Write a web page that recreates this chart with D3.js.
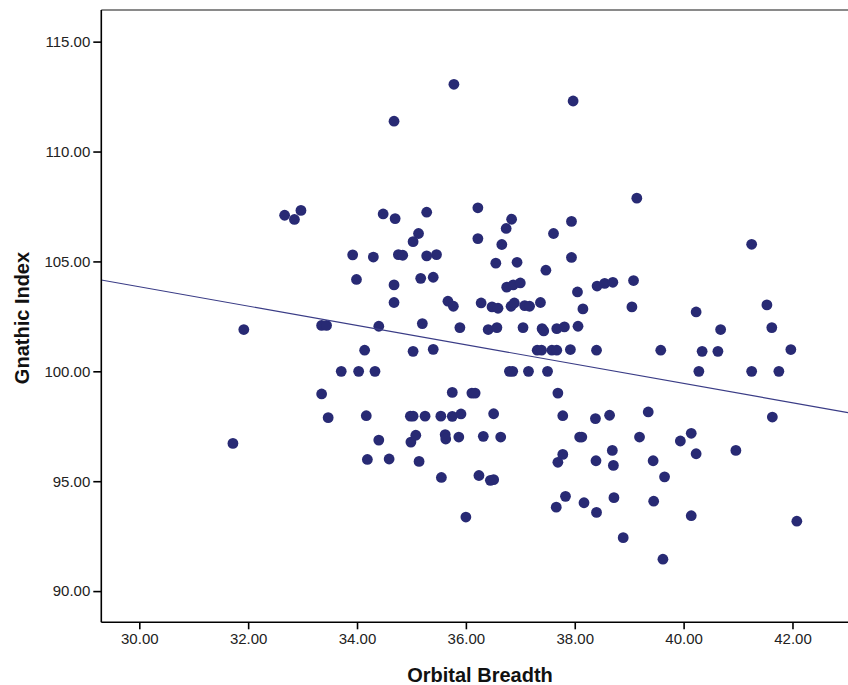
<!DOCTYPE html>
<html>
<head>
<meta charset="utf-8">
<script src="https://cdn.jsdelivr.net/npm/d3@7"></script>
<style>
  body { margin: 0; background: #fff; }
  svg { display: block; }
</style>
</head>
<body>
<svg id="viz" width="848" height="685"></svg>
<script>

// data
var orbitalBreadth = [
  35.78, 34.68, 32.67, 32.97, 32.85, 34.48, 34.70, 35.28, 36.22, 36.22,
  35.13, 35.03, 33.92, 34.30, 34.76, 34.84, 35.28, 35.46, 33.99, 34.68,
  35.17, 35.40, 34.68, 35.67, 35.77, 36.28, 31.92, 33.35, 33.44, 34.40,
  35.20, 35.89, 34.14, 35.03, 35.40, 33.71, 34.03, 34.33, 33.35, 35.75,
  36.11, 36.17, 33.47, 34.17, 34.98, 35.03, 35.25, 35.54, 35.75, 35.91,
  31.72, 34.40, 34.99, 35.08, 35.62, 35.63, 35.87, 36.32, 34.19, 34.59,
  35.14, 35.55, 36.24, 36.00, 37.97, 39.14, 36.84, 36.74, 37.94, 37.61,
  36.66, 41.25, 37.94, 36.55, 36.94, 37.47, 36.75, 36.87, 37.00, 38.41,
  38.55, 38.70, 39.08, 38.05, 36.48, 36.59, 36.83, 36.89, 37.08, 37.17,
  37.37, 38.15, 39.05, 40.23, 41.53, 40.68, 41.62, 36.41, 36.57, 37.05,
  37.40, 37.43, 37.67, 37.81, 38.06, 37.31, 37.39, 37.58, 37.67, 37.92,
  38.40, 39.58, 40.34, 40.63, 41.97, 36.80, 36.86, 37.15, 37.50, 40.28,
  41.25, 41.75, 37.69, 36.51, 37.78, 38.38, 38.64, 39.35, 41.63, 36.64,
  38.09, 38.13, 39.19, 39.94, 40.14, 37.78, 37.69, 38.69, 38.39, 38.71,
  39.44, 40.23, 40.96, 39.65, 36.45, 36.51, 37.83, 37.66, 38.17, 38.40,
  38.72, 39.45, 40.14, 42.08, 38.89, 39.62
]

var gnathicIndex = [
  113.06, 111.38, 107.10, 107.32, 106.91, 107.16, 106.95, 107.24, 107.44, 106.04,
  106.27, 105.90, 105.30, 105.20, 105.31, 105.28, 105.25, 105.31, 104.18, 103.93,
  104.23, 104.28, 103.13, 103.19, 102.96, 103.11, 101.90, 102.09, 102.09, 102.05,
  102.17, 101.99, 100.96, 100.91, 101.00, 100.00, 100.00, 100.00, 98.97, 99.04,
  99.01, 99.01, 97.89, 97.98, 97.96, 97.96, 97.96, 97.96, 97.95, 98.06,
  96.72, 96.87, 96.78, 97.09, 97.12, 96.92, 97.01, 97.04, 95.99, 96.01,
  95.90, 95.17, 95.26, 93.37, 112.30, 107.88, 106.92, 106.50, 106.82, 106.27,
  105.77, 105.78, 105.18, 104.92, 104.96, 104.60, 103.83, 103.93, 104.02, 103.88,
  104.00, 104.05, 104.13, 103.61, 102.93, 102.87, 102.96, 103.11, 102.99, 102.96,
  103.13, 102.84, 102.93, 102.70, 103.02, 101.90, 101.99, 101.90, 101.99, 101.99,
  101.94, 101.84, 101.94, 102.02, 102.05, 100.96, 100.96, 100.96, 100.96, 100.99,
  100.96, 100.96, 100.91, 100.91, 100.99, 100.00, 100.00, 100.00, 100.00, 100.00,
  100.00, 100.00, 99.01, 98.07, 97.98, 97.85, 98.00, 98.15, 97.92, 97.01,
  97.01, 97.01, 97.01, 96.83, 97.18, 96.22, 95.86, 96.40, 95.93, 95.72,
  95.93, 96.25, 96.40, 95.20, 95.04, 95.07, 94.31, 93.82, 94.02, 93.58,
  94.25, 94.09, 93.43, 93.18, 92.43, 91.45
]

var xTicks = [30, 32, 34, 36, 38, 40, 42]
var yTicks = [90, 95, 100, 105, 110, 115]

var xTitle = 'Orbital Breadth'
var yTitle = 'Gnathic Index'


var plotLeft = 101.3, plotRight = 848, plotTop = 10, plotBottom = 622.3
var dotColor = '#282a74'

var svg = d3.select('svg#viz')

var x = d3.scaleLinear().domain([29.302, 43.02]).range([plotLeft, plotRight])
var y = d3.scaleLinear().domain([88.58, 116.44]).range([plotBottom, plotTop])

var points = orbitalBreadth.map(function(d, i) {
  return {x: d, y: gnathicIndex[i]}
})

// least squares fit line
var mx = d3.mean(points, function(d) { return d.x })
var my = d3.mean(points, function(d) { return d.y })
var sxy = d3.sum(points, function(d) { return (d.x - mx) * (d.y - my) })
var sxx = d3.sum(points, function(d) { return (d.x - mx) * (d.x - mx) })
var slope = sxy / sxx
var intercept = my - slope * mx

// top frame line
svg.append('line')
  .attr('x1', plotLeft).attr('x2', plotRight)
  .attr('y1', plotTop).attr('y2', plotTop)
  .attr('stroke', '#8a8a8a').attr('stroke-width', 2)

// dots
svg.append('g').selectAll('circle')
  .data(points)
  .enter().append('circle')
    .attr('cx', function(d) { return x(d.x) })
    .attr('cy', function(d) { return y(d.y) })
    .attr('r', 5.4)
    .attr('fill', dotColor)

// fit line
var x0 = x.domain()[0], x1 = x.domain()[1]
svg.append('line')
  .attr('x1', x(x0)).attr('y1', y(intercept + slope * x0))
  .attr('x2', x(x1)).attr('y2', y(intercept + slope * x1))
  .attr('stroke', '#3a3c86').attr('stroke-width', 1.2)

// axes
var xAxis = d3.axisBottom(x).tickValues(xTicks)
  .tickSize(7).tickPadding(4).tickFormat(d3.format('.2f'))
var yAxis = d3.axisLeft(y).tickValues(yTicks)
  .tickSize(8).tickPadding(3).tickFormat(d3.format('.2f'))

var gx = svg.append('g')
  .attr('transform', 'translate(0,' + plotBottom + ')')
  .call(xAxis)
var gy = svg.append('g')
  .attr('transform', 'translate(' + plotLeft + ',0)')
  .call(yAxis)

;[gx, gy].forEach(function(g) {
  g.select('.domain').attr('stroke', '#000').attr('stroke-width', 1.6)
  g.selectAll('.tick line').attr('stroke', '#000').attr('stroke-width', 1.6)
  g.selectAll('.tick text')
    .attr('fill', '#222')
    .style('font-family', '"Liberation Sans", Arial, sans-serif')
    .style('font-size', '15px')
})
gx.select('.domain').attr('d', 'M' + plotLeft + ',0H' + plotRight)
gy.select('.domain').attr('d', 'M0,' + plotTop + 'V' + plotBottom)

// axis titles
svg.append('text')
  .attr('x', 480).attr('y', 682)
  .attr('text-anchor', 'middle')
  .style('font-family', '"Liberation Sans", Arial, sans-serif')
  .style('font-weight', 'bold')
  .style('font-size', '20px')
  .attr('fill', '#111')
  .text(xTitle)

svg.append('text')
  .attr('transform', 'translate(29,318) rotate(-90)')
  .attr('text-anchor', 'middle')
  .style('font-family', '"Liberation Sans", Arial, sans-serif')
  .style('font-weight', 'bold')
  .style('font-size', '20px')
  .attr('fill', '#111')
  .text(yTitle)

</script>
</body>
</html>
